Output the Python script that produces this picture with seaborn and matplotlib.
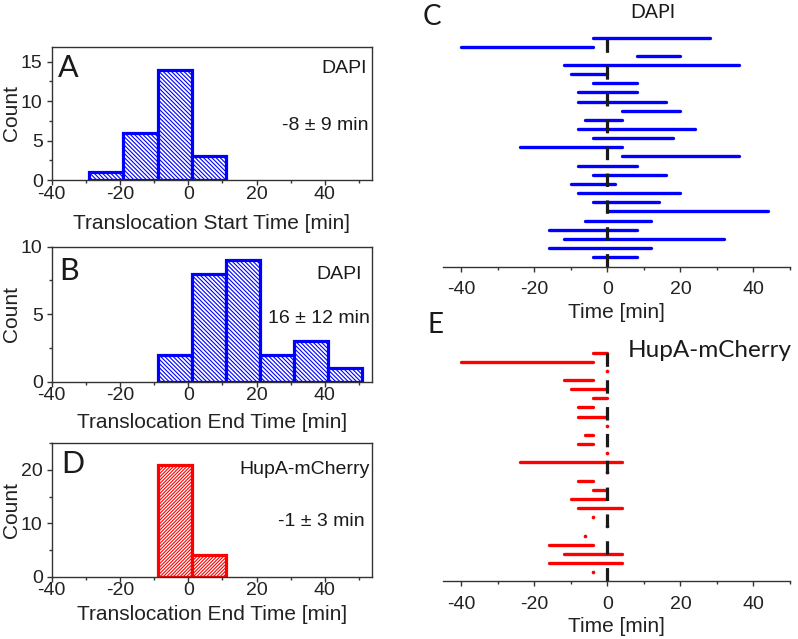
import numpy as np
import pandas as pd
import matplotlib
matplotlib.use("Agg")
import matplotlib.pyplot as plt
import seaborn as sns
from matplotlib.ticker import AutoMinorLocator, MultipleLocator

# Translocation tracks per cell (top row first), time in min relative to division
dapi_start = [-4, -40, 8, -12, -10, -4, -8, -8, 4, -6, -8, -4, -24,
              4, -8, -4, -10, -8, -4, 0, -6, -16, -12, -16, -4]
dapi_end = [28, -4, 20, 36, 0, 8, 8, 16, 20, 4, 24, 18, 4,
            36, 8, 16, 2, 20, 14, 44, 12, 8, 32, 12, 8]
hupa_start = [-4, -40, 0, -12, -10, -4, -8, -8, 0, -6, -8, 0, -24,
              0, -8, -4, -10, -8, -4, 0, -6, -16, -12, -16, -4]
hupa_end = [0, -4, 0, -4, 0, 0, -4, 0, 0, -4, -4, 0, 4,
            0, -4, 0, 0, 4, -4, 0, -6, -4, 4, 4, -4]

# histogram bin edges
start_bins = [-29, -19, -9, 1, 11]
end_bins = [-9, 1, 11, 21, 31, 41, 51]
hupa_bins = [-9, 1, 11]

stat_a = "-8 \u00b1 9 min"
stat_b = "16 \u00b1 12 min"
stat_d = "-1 \u00b1 3 min"

BLUE = "#0000ff"
RED = "#ff0000"
SPINE = "#333333"

sns.set_style("white")
plt.rcParams["font.family"] = ["Liberation Sans", "DejaVu Sans"]
plt.rcParams["hatch.linewidth"] = 0.8
plt.rcParams["axes.unicode_minus"] = False

W, H = 798, 639
fig = plt.figure(figsize=(W / 100, H / 100), dpi=100)


def px_axes(left, top, right, bottom):
    return fig.add_axes([left / W, 1 - bottom / H, (right - left) / W, (bottom - top) / H])


def style_axis(ax):
    for s in ax.spines.values():
        s.set_color(SPINE)
        s.set_linewidth(1.0)
    ax.tick_params(which="major", direction="out", length=3.5, width=1, color=SPINE,
                   labelsize=14, labelcolor="#222222", bottom=True, left=True)
    ax.tick_params(which="minor", direction="out", length=2, width=1, color=SPINE,
                   bottom=True, left=True)
    ax.tick_params(axis="x", pad=0.5)
    ax.tick_params(axis="y", pad=3)


def hist_panel(ax, values, bins, color, hatch, ymax, ystep, xlabel):
    sns.histplot(x=values, bins=bins, ax=ax, fill=True, facecolor="white",
                 edgecolor=color, linewidth=2.3, hatch=hatch, alpha=1)
    ax.set_xlim(-40, 53.7)
    ax.set_ylim(0, ymax)
    ax.xaxis.set_major_locator(MultipleLocator(20))
    ax.xaxis.set_minor_locator(AutoMinorLocator(2))
    ax.yaxis.set_major_locator(MultipleLocator(ystep))
    ax.yaxis.set_minor_locator(AutoMinorLocator(2))
    style_axis(ax)
    ax.set_ylabel("Count", fontsize=15, color="#222222")
    ax.set_xlabel(xlabel, fontsize=15, color="#222222")
    ax.yaxis.set_label_coords(-0.125, 0.5)
    ax.yaxis.label.set_va("center")


def track_panel(ax, starts, ends, color, ybottom):
    rows = np.arange(1, len(starts) + 1)
    df = pd.DataFrame({"row": np.r_[rows, rows], "time": np.r_[starts, ends]})
    sns.lineplot(data=df, x="time", y="row", units="row", estimator=None,
                 color=color, lw=2.4, solid_capstyle="round", ax=ax, legend=False)
    st = np.array(starts)
    en = np.array(ends)
    same = st == en
    if same.any():
        sns.scatterplot(x=st[same], y=rows[same], color=color, s=7, linewidth=0, ax=ax)
    ax.axvline(0, color="#1a1a1a", lw=2.3, dashes=(4.2, 4.2), zorder=5)
    ax.set_xlim(-45, 50)
    ax.set_ylim(ybottom, 0.5)
    ax.xaxis.set_major_locator(MultipleLocator(20))
    ax.xaxis.set_minor_locator(AutoMinorLocator(2))
    style_axis(ax)
    for s in ["left", "top", "right"]:
        ax.spines[s].set_visible(False)
    ax.tick_params(axis="y", left=False, labelleft=False, which="both")
    ax.tick_params(axis="x", pad=7)
    ax.set_ylabel("")
    ax.set_xlabel("Time [min]", fontsize=15, color="#222222")


# left column: histograms
ax_a = px_axes(51.7, 46.7, 371.7, 180)
hist_panel(ax_a, dapi_start, start_bins, BLUE, "\\" * 8, 16.9, 5, "Translocation Start Time [min]")
ax_a.xaxis.set_label_coords(0.5, -43 / 133.3)
ax_a.xaxis.label.set_va("center")

ax_b = px_axes(51.7, 246.7, 371.7, 381.7)
hist_panel(ax_b, dapi_end, end_bins, BLUE, "\\" * 8, 10, 5, "Translocation End Time [min]")
ax_b.xaxis.set_label_coords(0.5, -41 / 135)
ax_b.xaxis.label.set_va("center")

ax_d = px_axes(51.7, 443.3, 371.7, 576.7)
hist_panel(ax_d, hupa_end, hupa_bins, RED, "/" * 10, 25, 10, "Translocation End Time [min]")
ax_d.xaxis.set_label_coords(0.5, -38 / 133.4)
ax_d.xaxis.label.set_va("center")

# right column: tracks
ax_c = px_axes(443, 33, 790, 266.7)
track_panel(ax_c, dapi_start, dapi_end, BLUE, 26.05)
ax_c.xaxis.set_label_coords(0.5, -46.3 / 233.7)
ax_c.xaxis.label.set_va("center")

ax_e = px_axes(443, 348, 790, 581)
track_panel(ax_e, hupa_start, hupa_end, RED, 25.96)
ax_e.xaxis.set_label_coords(0.5, -45.7 / 233)
ax_e.xaxis.label.set_va("center")


def ftext(x, y, s, size, ha="left", family=None):
    kw = {}
    if family:
        kw["family"] = family
    fig.text(x / W, 1 - y / H, s, fontsize=size, ha=ha, va="baseline", color="#1a1a1a", **kw)


letter_font = ["Lato", "DejaVu Sans"]
ftext(58, 76.7, "A", 22, family=letter_font)
ftext(59, 280, "B", 22, family=letter_font)
ftext(61, 473.3, "D", 22, family=letter_font)
ftext(423, 25, "C", 20, family=letter_font)
ftext(427, 333.3, "E", 20, family=letter_font)

ftext(366.7, 73.3, "DAPI", 14, ha="right")
ftext(368.3, 130, stat_a, 14, ha="right")
ftext(361.7, 279, "DAPI", 14, ha="right")
ftext(370, 323.3, stat_b, 14, ha="right")
ftext(370, 474, "HupA-mCherry", 14, ha="right")
ftext(365, 526, stat_d, 14, ha="right")

ftext(630, 18.3, "DAPI", 14, family=letter_font)
ftext(628, 356.7, "HupA-mCherry", 17.5, family=letter_font)

fig.savefig("out.png", dpi=100)
